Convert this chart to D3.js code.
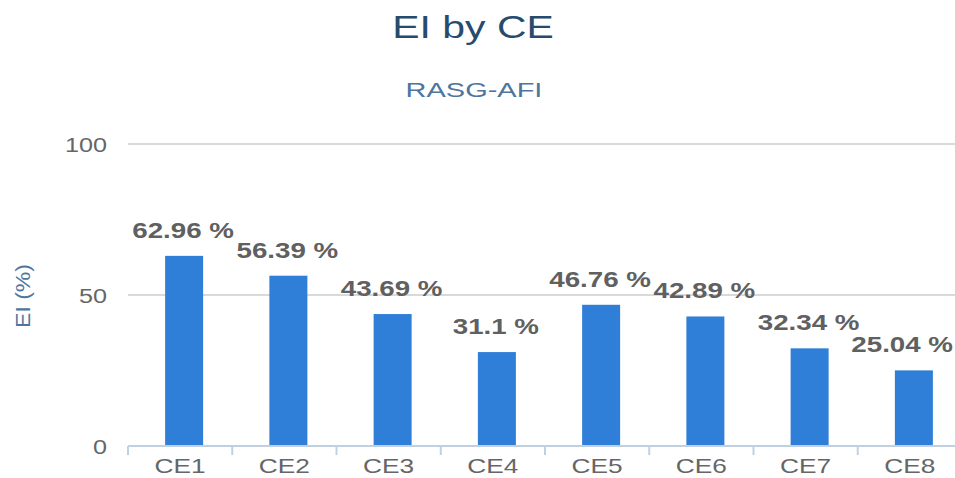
<!DOCTYPE html>
<html>
<head>
<meta charset="utf-8">
<script src="https://cdn.jsdelivr.net/npm/d3@7"></script>
<style>
  body { margin: 0; background: #fff; }
  svg { display: block; font-family: "Liberation Sans", Arial, sans-serif; }
</style>
</head>
<body>
<svg width="955" height="478"></svg>
<script>
// chart data
var categories = ["CE1", "CE2", "CE3", "CE4", "CE5", "CE6", "CE7", "CE8"];
var values = [62.96, 56.39, 43.69, 31.1, 46.76, 42.89, 32.34, 25.04];
var yTicks = [0, 50, 100];
var titleText = "EI by CE";
var subtitleText = "RASG-AFI";
var yTitleText = "EI (%)";

var svg = d3.select("svg"),
  plotLeft = 128, plotRight = 962, plotTop = 144, plotBottom = 446;

var x = d3.scaleBand().domain(categories).range([plotLeft, plotRight]);
var y = d3.scaleLinear().domain([0, 100]).range([plotBottom, plotTop]);
var barW = 38;

// titles (source picture is stretched horizontally, hence the scaleX)
svg.append("text")
  .attr("transform", "translate(473,38) scale(1.32,1)")
  .attr("text-anchor", "middle")
  .style("font-size", "31px")
  .style("fill", "#274b6d")
  .text(titleText);

svg.append("text")
  .attr("transform", "translate(474,97) scale(1.45,1)")
  .attr("text-anchor", "middle")
  .style("font-size", "20px")
  .style("fill", "#4d759e")
  .text(subtitleText);

svg.append("text")
  .attr("transform", "translate(30,296) rotate(-90) scale(1.15,1)")
  .attr("text-anchor", "middle")
  .style("font-size", "20px")
  .style("fill", "#4d759e")
  .text(yTitleText);

// grid lines
svg.append("g").selectAll("line")
  .data(yTicks.filter(function(d) { return d > 0; }))
  .join("line")
  .attr("x1", plotLeft).attr("x2", plotRight)
  .attr("y1", function(d) { return y(d); })
  .attr("y2", function(d) { return y(d); })
  .attr("stroke", "#d9d9d9")
  .attr("stroke-width", 2);

// y axis labels
var yAxis = svg.append("g")
  .attr("transform", "translate(" + plotLeft + ",0)")
  .call(d3.axisLeft(y).tickValues(yTicks).tickSize(0).tickPadding(0));
yAxis.select(".domain").remove();
yAxis.selectAll("text")
  .attr("x", 0).attr("dy", "0.35em")
  .attr("transform", "translate(-21,0) scale(1.2,1)")
  .style("font-size", "21px")
  .style("font-family", "Liberation Sans, Arial, sans-serif")
  .style("fill", "#666");

// bars
function barCenter(i) {
  return x(categories[i]) + x.bandwidth() / 2 + 4;
}

svg.append("g").selectAll("rect")
  .data(values)
  .join("rect")
  .attr("x", function(d, i) { return barCenter(i) - barW / 2; })
  .attr("y", function(d) { return y(d); })
  .attr("width", barW)
  .attr("height", function(d) { return y(0) - y(d); })
  .attr("fill", "#2f7ed8");

// data labels, pushed back inside the chart when they would spill over the edge
var labelScale = 1.26;
svg.append("g").selectAll("text")
  .data(values)
  .join("text")
  .attr("text-anchor", "middle")
  .style("font-size", "22px")
  .style("font-weight", "bold")
  .style("fill", "#606060")
  .text(function(d) { return d + " %"; })
  .attr("transform", function(d, i) {
    var half = this.getComputedTextLength() * labelScale / 2;
    var cx = Math.min(barCenter(i) - 1, 953 - half);
    return "translate(" + cx + "," + (y(d) - 18) + ") scale(" + labelScale + ",1)";
  });

// x axis
var xAxis = svg.append("g")
  .attr("transform", "translate(0," + plotBottom + ")")
  .call(d3.axisBottom(x).tickSize(0).tickPadding(0));
xAxis.select(".domain").remove();
xAxis.selectAll("text")
  .attr("y", 27).attr("dy", 0)
  .attr("transform", "scale(1.25,1)")
  .style("font-size", "21px")
  .style("font-family", "Liberation Sans, Arial, sans-serif")
  .style("fill", "#666");

var bounds = categories.map(function(c) { return x(c); }).concat([plotRight]);
svg.append("g").selectAll("line")
  .data(bounds)
  .join("line")
  .attr("x1", function(d) { return d; })
  .attr("x2", function(d) { return d; })
  .attr("y1", plotBottom).attr("y2", plotBottom + 9)
  .attr("stroke", "#c0d0e0")
  .attr("stroke-width", 2);

svg.append("line")
  .attr("x1", plotLeft).attr("x2", plotRight)
  .attr("y1", plotBottom).attr("y2", plotBottom)
  .attr("stroke", "#c0d0e0")
  .attr("stroke-width", 2);
</script>
</body>
</html>
